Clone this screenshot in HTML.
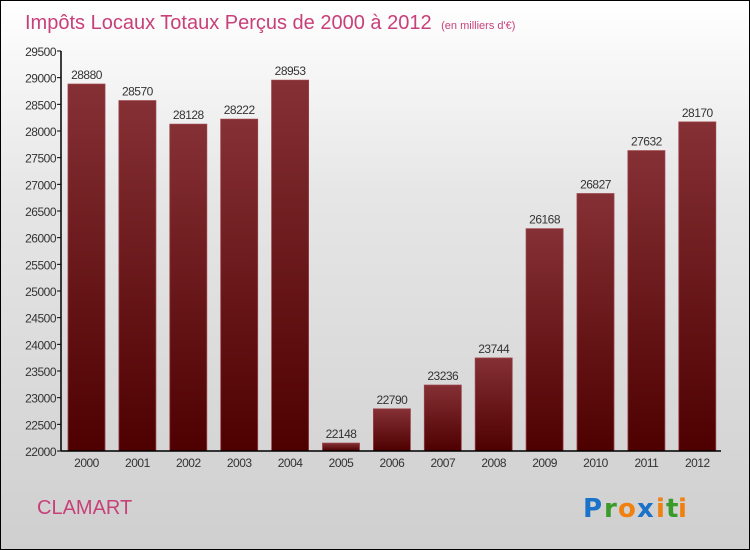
<!DOCTYPE html>
<html><head><meta charset="utf-8"><style>
body{margin:0;}
#c{width:748px;height:548px;border:1px solid #000;background:linear-gradient(#fff 0%,#e6e6e6 35%,#cfcfcf 100%);position:relative;overflow:hidden;font-family:"Liberation Sans",sans-serif;}
</style></head><body>
<div id="c">
<svg width="748" height="548" id="svg">
<defs><linearGradient id="bg" x1="0" y1="0" x2="0" y2="1"><stop offset="0" stop-color="#853035"/><stop offset="1" stop-color="#4e0000"/></linearGradient></defs>
<text x="24" y="28" font-size="20" fill="#c8407a">Impôts Locaux Totaux Perçus de 2000 à 2012 <tspan font-size="11" dx="4">(en milliers d'€)</tspan></text>
<text x="36" y="513" font-size="20" fill="#c8407a">CLAMART</text>
<g font-size="26" font-weight="bold" font-family="'DejaVu Sans',sans-serif"><text x="582" y="516" fill="#1a73c8">P</text><text x="603" y="516" fill="#3a9a2a">r</text><text x="617" y="516" fill="#f08010">o</text><text x="636" y="516" fill="#1a73c8">x</text><text x="655" y="516" fill="#f08010">i</text><text x="665" y="516" fill="#3a9a2a">t</text><text x="677" y="516" fill="#f08010">i</text></g>
<g id="plot"></g>
</svg>
</div>
<script>
const categories=["2000","2001","2002","2003","2004","2005","2006","2007","2008","2009","2010","2011","2012"];
const values=[28880,28570,28128,28222,28953,22148,22790,23236,23744,26168,26827,27632,28170];
const yTicks=[22000,22500,23000,23500,24000,24500,25000,25500,26000,26500,27000,27500,28000,28500,29000,29500];
const NS="http://www.w3.org/2000/svg";
const g=document.getElementById('plot');
const x0=60,x1=720,yTop=50,yBot=450,yMin=22000,yMax=29500;
const y=v=>yBot-(v-yMin)/(yMax-yMin)*(yBot-yTop);
const step=50.9,first=85.5,bw=37;
const xc=i=>first+i*step;
function mk(t,a){const e=document.createElementNS(NS,t);for(const k in a)e.setAttribute(k,a[k]);g.appendChild(e);return e;}
yTicks.forEach(v=>{
 const l=mk('line',{x1:x0-4,x2:x0,y1:y(v),y2:y(v),stroke:'#000'});
 
 
 const t=mk('text',{x:x0-5,y:y(v)+5,'text-anchor':'end','font-size':12,fill:'#333','letter-spacing':'-0.5'});
 t.textContent=v;
 
 
});
values.forEach((v,i)=>{
 const r=mk('rect',{x:xc(i)-bw/2,y:y(v),width:bw,height:yBot-y(v),fill:'url(#bg)',stroke:'#9a4048','stroke-width':0.8});
 
 
 const t=mk('text',{x:xc(i),y:y(v)-5,'text-anchor':'middle','font-size':12,fill:'#333','letter-spacing':'-0.5'});
 t.textContent=v;
 
 
 const c=mk('text',{x:xc(i),y:yBot+16,'text-anchor':'middle','font-size':12,fill:'#333','letter-spacing':'-0.5'});
 c.textContent=categories[i];
 
 
});
const ya=mk('line',{x1:x0,x2:x0,y1:yTop,y2:yBot,stroke:'#000','stroke-width':1.5});


const xa=mk('line',{x1:x0,x2:x1,y1:yBot,y2:yBot,stroke:'#000','stroke-width':1.5});


</script>
</body></html>
